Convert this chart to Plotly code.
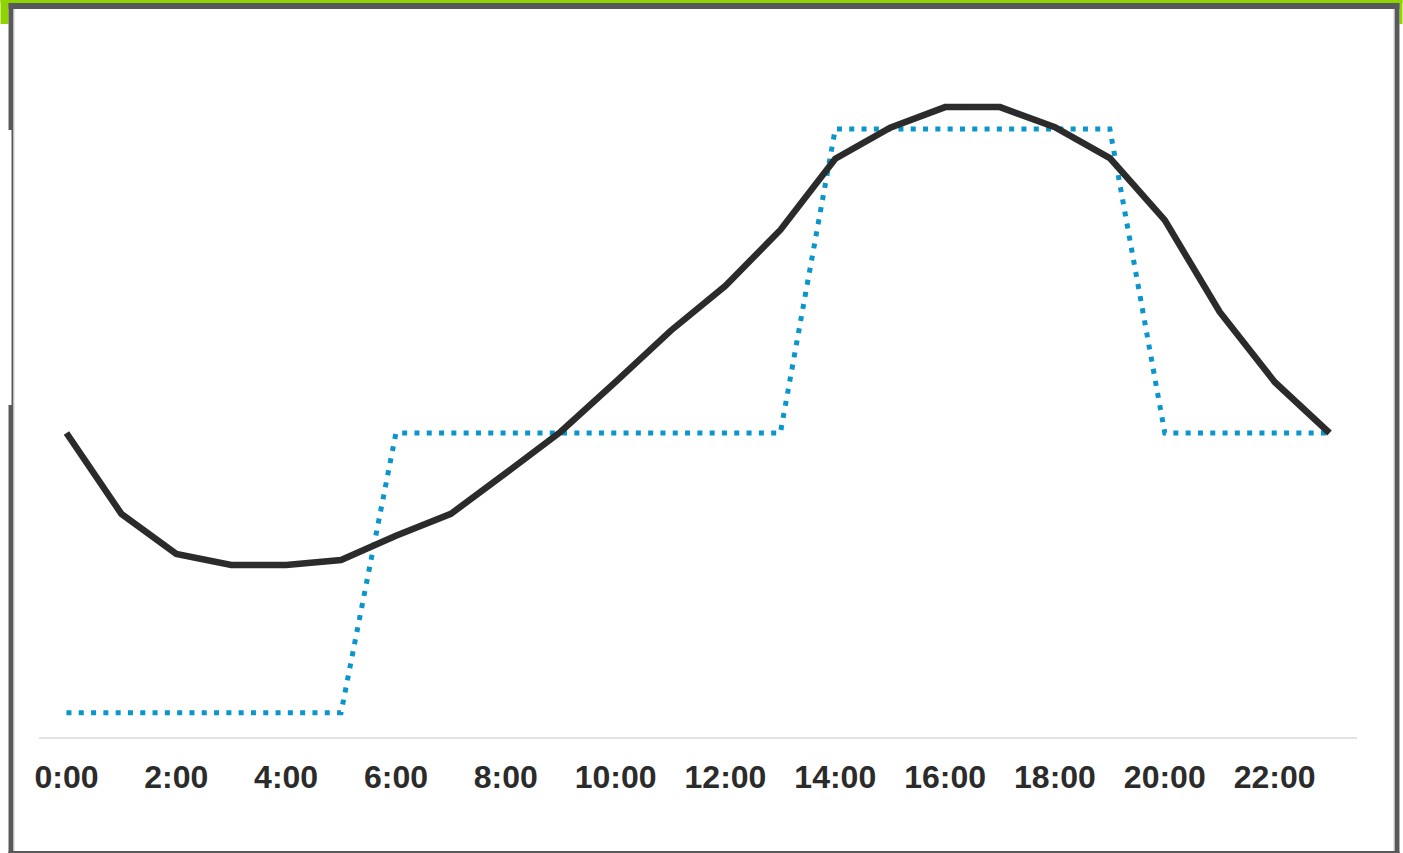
import plotly.graph_objects as go

hours = list(range(24))
tick_vals = list(range(0, 24, 2))
tick_text = [f"{h}:00" for h in tick_vals]

demand = [50.0, 36.7, 30.1, 28.3, 28.3, 29.1, 33.1, 36.7, 43.4, 50.2, 58.4, 66.8,
          74.2, 83.4, 95.1, 100.2, 103.6, 103.6, 100.3, 95.2, 85.0, 69.9, 58.4, 50.0]
tariff = [4, 4, 4, 4, 4, 4, 50, 50, 50, 50, 50, 50,
          50, 50, 100, 100, 100, 100, 100, 100, 50, 50, 50, 50]

W, H = 1403, 853
L, R, T, B = 38.5, 45.5, 80, 116
PW, PH = W - L - R, H - T - B

def px(x):
    return (x - L) / PW

def py(y):
    return (H - B - y) / PH

fig = go.Figure()
fig.add_trace(go.Scatter(x=hours, y=tariff, mode="lines",
                         line=dict(color="#0a96cc", width=5, dash="5px,7.3px"),
                         hoverinfo="skip"))
fig.add_trace(go.Scatter(x=hours, y=demand, mode="lines",
                         line=dict(color="#2b2b2b", width=6.5),
                         hoverinfo="skip"))

shapes = []
def rect(x0, y0, x1, y1, color):
    shapes.append(dict(type="rect", xref="paper", yref="paper",
                       x0=px(x0), x1=px(x1), y0=py(y1), y1=py(y0),
                       fillcolor=color, line=dict(width=0), layer="above"))

green = "#8fd400"
gray = "#58595b"
rect(0, 0, W, 3, green)
rect(0, 0, 8, 24, green)
rect(1400, 0, W, 24, green)
rect(8, 3, 1400, 9, gray)
rect(8, 3, 13, 130, gray)
rect(11, 130, 13, 405, gray)
rect(8, 405, 13, H, gray)
rect(13, 9, 14, H, "#d0d0d0")
rect(1395, 3, 1400, H, gray)
rect(1394, 9, 1395, H, "#d0d0d0")
rect(8, 851, 1400, H, gray)

fig.update_layout(
    width=W, height=H,
    margin=dict(l=L, r=R, t=T, b=B),
    paper_bgcolor="white", plot_bgcolor="white",
    showlegend=False,
    hovermode=False,
    shapes=shapes,
    xaxis=dict(range=[-0.5, 23.5], tickvals=tick_vals, ticktext=tick_text,
               showgrid=False, zeroline=False, showline=True,
               linecolor="#e3e3e3", linewidth=2,
               ticks="outside", ticklen=11, tickcolor="rgba(0,0,0,0)",
               tickfont=dict(family="Liberation Sans, Arial", size=32,
                             color="#2b2b2b", weight="bold")),
    yaxis=dict(range=[0, PH / 6.08], showgrid=False, zeroline=False,
               showticklabels=False, showline=False),
)

fig.write_html("out.html",
               config={"displayModeBar": False, "staticPlot": True},
               post_script="document.body.style.margin='0';document.body.style.overflow='hidden';")
